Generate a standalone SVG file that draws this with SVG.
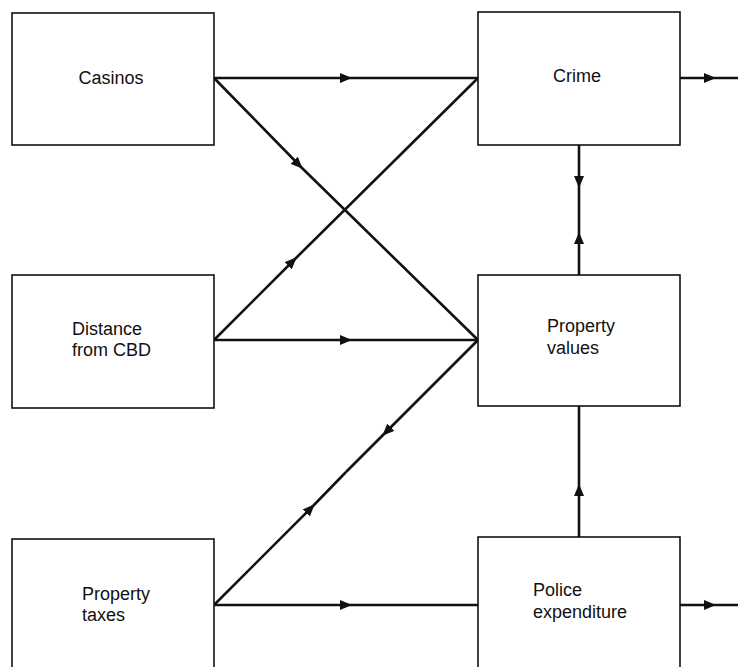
<svg xmlns="http://www.w3.org/2000/svg" width="738" height="667" viewBox="0 0 738 667">
<style>
.box{fill:#fff;stroke:#111;stroke-width:1.6}
.lbl{font-family:"Liberation Sans",Arial,sans-serif;font-size:18px;fill:#111}
.c{fill:none;stroke:#111;stroke-width:2.6;stroke-linejoin:round}
</style>
<defs>
<marker id="ah" viewBox="0 0 12 10" refX="11" refY="5" markerWidth="12" markerHeight="10" markerUnits="userSpaceOnUse" orient="auto">
<path d="M0,0 L12,5 L0,10 z" fill="#111"/>
</marker>
</defs>
<rect width="738" height="667" fill="#fff"/>
<g id="connectors">
<path class="c" d="M214,78 L351,78 L478,78" marker-mid="url(#ah)"/>
<path class="c" d="M214,78 L302,168 L478,340" marker-mid="url(#ah)"/>
<path class="c" d="M214,340 L296,258 L478,78" marker-mid="url(#ah)"/>
<path class="c" d="M214,340 L351,340 L478,340" marker-mid="url(#ah)"/>
<path class="c" d="M478,340 L383,435 L346,472" marker-mid="url(#ah)"/>
<path class="c" d="M214,605 L314,505 L346,472" marker-mid="url(#ah)"/>
<path class="c" d="M214,605 L351,605 L478,605" marker-mid="url(#ah)"/>
<path class="c" d="M680,78 L715,78 L738,78" marker-mid="url(#ah)"/>
<path class="c" d="M680,605 L715,605 L738,605" marker-mid="url(#ah)"/>
<path class="c" d="M579,145 L579,187 L579,210" marker-mid="url(#ah)"/>
<path class="c" d="M579,275 L579,233 L579,210" marker-mid="url(#ah)"/>
<path class="c" d="M579,537 L579,485 L579,406" marker-mid="url(#ah)"/>
</g>
<g id="casinos">
<rect class="box" x="12" y="13" width="202" height="132"/>
<text class="lbl" x="111" y="84" text-anchor="middle">Casinos</text>
</g>
<g id="crime">
<rect class="box" x="478" y="12" width="202" height="133"/>
<text class="lbl" x="577" y="82" text-anchor="middle">Crime</text>
</g>
<g id="distance">
<rect class="box" x="12" y="275" width="202" height="133"/>
<text class="lbl" x="72" y="335">Distance</text>
<text class="lbl" x="72" y="356">from CBD</text>
</g>
<g id="property-values">
<rect class="box" x="478" y="275" width="202" height="131"/>
<text class="lbl" x="547" y="332">Property</text>
<text class="lbl" x="547" y="354">values</text>
</g>
<g id="property-taxes">
<rect class="box" x="12" y="539" width="202" height="140"/>
<text class="lbl" x="82" y="600">Property</text>
<text class="lbl" x="82" y="621">taxes</text>
</g>
<g id="police-expenditure">
<rect class="box" x="478" y="537" width="202" height="142"/>
<text class="lbl" x="533" y="596">Police</text>
<text class="lbl" x="533" y="618">expenditure</text>
</g>
</svg>
